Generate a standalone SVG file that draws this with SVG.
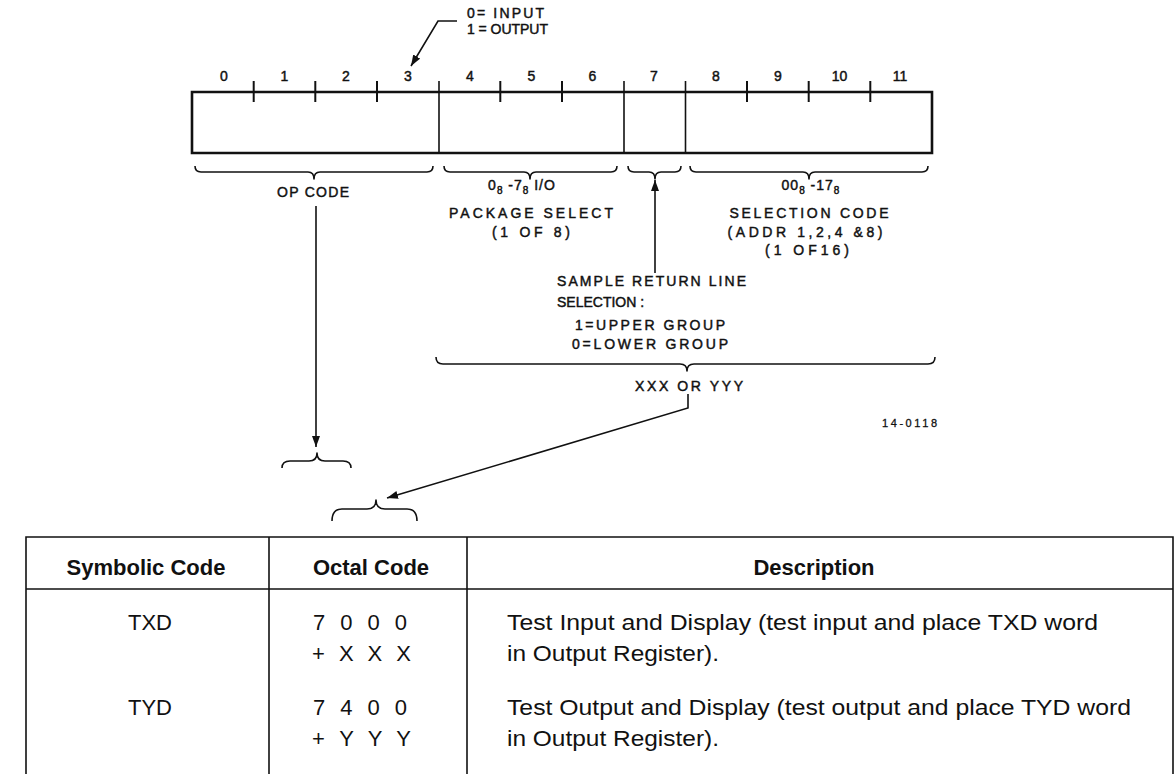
<svg xmlns="http://www.w3.org/2000/svg" width="1176" height="774" viewBox="0 0 1176 774">
<style>
.t{font-family:"Liberation Sans",Arial,Helvetica,sans-serif;font-size:14px;fill:#111;stroke:#111;stroke-width:0.45}
.s{font-family:"Liberation Sans",Arial,Helvetica,sans-serif;font-size:11px;fill:#111;stroke:#111;stroke-width:0.3}
.th{font-family:"Liberation Sans",Arial,Helvetica,sans-serif;font-size:22px;font-weight:bold;fill:#111}
.td{font-family:"Liberation Sans",Arial,Helvetica,sans-serif;font-size:22px;fill:#111}
.ln{stroke:#111;fill:none;stroke-width:1.6}
.br{stroke:#111;fill:none;stroke-width:1.6;stroke-linejoin:round}
.bx{stroke:#111;fill:none;stroke-width:2.6}
.tk{stroke:#111;stroke-width:2}
.tl{stroke:#111;fill:none;stroke-width:1.6}
.c{text-anchor:middle}
</style>
<defs>
<marker id="ah" markerUnits="userSpaceOnUse" markerWidth="12" markerHeight="10" refX="11" refY="4" orient="auto">
<path d="M0,0 L11,4 L0,8 z" fill="#111"/>
</marker>
</defs>

<g id="io-note">
<text class="t" x="467" y="18" textLength="77">0= INPUT</text>
<text class="t" x="467" y="34" textLength="81">1 = OUTPUT</text>
</g>

<g id="register">
<path class="bx" d="M192,92 H932 V153 H192 Z"/>
<g class="tk">
<line x1="253.7" y1="81" x2="253.7" y2="102"/>
<line x1="315.3" y1="81" x2="315.3" y2="102"/>
<line x1="377" y1="81" x2="377" y2="102"/>
<line x1="500.3" y1="81" x2="500.3" y2="102"/>
<line x1="562" y1="81" x2="562" y2="102"/>
<line x1="747" y1="81" x2="747" y2="102"/>
<line x1="808.7" y1="81" x2="808.7" y2="102"/>
<line x1="870.3" y1="81" x2="870.3" y2="102"/>
</g>
<g class="ln">
<line x1="439" y1="81" x2="439" y2="153"/>
<line x1="624" y1="81" x2="624" y2="153"/>
<line x1="685.5" y1="81" x2="685.5" y2="153"/>
</g>
<g class="t c">
<text x="224" y="80.5">0</text>
<text x="284.5" y="80.5">1</text>
<text x="346" y="80.5">2</text>
<text x="408" y="80.5">3</text>
<text x="470" y="80.5">4</text>
<text x="531.5" y="80.5">5</text>
<text x="592.5" y="80.5">6</text>
<text x="654" y="80.5">7</text>
<text x="716" y="80.5">8</text>
<text x="778" y="80.5">9</text>
<text x="839.5" y="80.5">10</text>
<text x="900" y="80.5">11</text>
</g>
</g>

<g id="opcode-field">
<path class="br" d="M195,166 Q195,172 201,172 H308 Q314,172 314,179 Q314,172 320,172 H427 Q433,172 433,166"/>
<text class="t c" x="313" y="197" textLength="72">OP CODE</text>
</g>

<g id="package-field">
<path class="br" d="M444,166 Q444,172 450,172 H524 Q530,172 530,179 Q530,172 536,172 H611 Q617,172 617,166"/>
<text class="t c" x="522" y="190" letter-spacing="1">0<tspan font-size="10" dy="4">8</tspan><tspan dy="-4"> -7</tspan><tspan font-size="10" dy="4">8</tspan><tspan dy="-4"> I/O</tspan></text>
<text class="t c" x="531" y="218" textLength="164">PACKAGE SELECT</text>
<text class="t c" x="531" y="237" textLength="78">(1 OF 8)</text>
</g>

<g id="bit7-field">
<path class="br" d="M628,166 Q628,172 634,172 H649 Q655,172 655,179 Q655,172 661,172 H675 Q681,172 681,166"/>
</g>

<g id="selection-field">
<path class="br" d="M690,166 Q690,172 696,172 H803 Q809,172 809,179 Q809,172 815,172 H922 Q928,172 928,166"/>
<text class="t c" x="811" y="190" letter-spacing="1">00<tspan font-size="10" dy="4">8</tspan><tspan dy="-4"> -17</tspan><tspan font-size="10" dy="4">8</tspan></text>
<text class="t c" x="809" y="218" textLength="159">SELECTION CODE</text>
<text class="t c" x="805" y="237" textLength="155">(ADDR 1,2,4 &amp;8)</text>
<text class="t c" x="807" y="255" textLength="84">(1 OF16)</text>
</g>

<g id="sample-return">
<text class="t" x="557" y="286" textLength="189">SAMPLE RETURN LINE</text>
<text class="t" x="557" y="307" font-size="13">SELECTION :</text>
<text class="t" x="575" y="330" textLength="150">1=UPPER GROUP</text>
<text class="t" x="572" y="349" textLength="156">0=LOWER GROUP</text>
</g>

<g id="xxx-yyy">
<path class="br" d="M436,357 Q436,364 443,364 H680 Q687,364 687,371 Q687,364 694,364 H928 Q935,364 935,357"/>
<text class="t" x="635" y="391" textLength="108">XXX OR YYY</text>
</g>

<g id="fig-number">
<text class="s" x="882" y="427" textLength="55">14-0118</text>
</g>

<g id="target-brace-1">
<path class="br" d="M282,468 Q282,461 290,461 H309 Q317,461 317,453 Q317,461 325,461 H343 Q351,461 351,468"/>
</g>

<g id="target-brace-2">
<path class="br" d="M332,521 Q332,509 342,509 H367 Q376,509 376,500 Q376,509 385,509 H407 Q417,509 417,521"/>
</g>

<g id="connectors">
<path class="ln" d="M457,21 H438 L411,66" marker-end="url(#ah)"/>
<path class="ln" d="M316,206 V447" marker-end="url(#ah)"/>
<path class="ln" d="M655,273 V180" marker-end="url(#ah)"/>
<path class="ln" d="M688,394 V408 L387,498" marker-end="url(#ah)"/>
</g>

<g id="table">
<path class="tl" d="M26,774 V537 H1173 V774" stroke-width="2"/>
<line class="tl" x1="26" y1="589" x2="1173" y2="589" stroke-width="2"/>
<line class="tl" x1="269" y1="537" x2="269" y2="774"/>
<line class="tl" x1="467" y1="537" x2="467" y2="774"/>
<text class="th c" x="146" y="575">Symbolic Code</text>
<text class="th c" x="371" y="575">Octal Code</text>
<text class="th c" x="814" y="575">Description</text>
<text class="td c" x="150" y="630">TXD</text>
<text class="td" x="313" y="630" textLength="94" lengthAdjust="spacing">7 0 0 0</text>
<text class="td" x="312" y="661" textLength="99" lengthAdjust="spacing">+ X X X</text>
<text class="td" x="507" y="630" textLength="591" lengthAdjust="spacingAndGlyphs">Test Input and Display (test input and place TXD word</text>
<text class="td" x="507" y="661" textLength="212" lengthAdjust="spacingAndGlyphs">in Output Register).</text>
<text class="td c" x="150" y="715">TYD</text>
<text class="td" x="313" y="715" textLength="94" lengthAdjust="spacing">7 4 0 0</text>
<text class="td" x="312" y="746" textLength="99" lengthAdjust="spacing">+ Y Y Y</text>
<text class="td" x="507" y="715" textLength="624" lengthAdjust="spacingAndGlyphs">Test Output and Display (test output and place TYD word</text>
<text class="td" x="507" y="746" textLength="212" lengthAdjust="spacingAndGlyphs">in Output Register).</text>
</g>
</svg>
